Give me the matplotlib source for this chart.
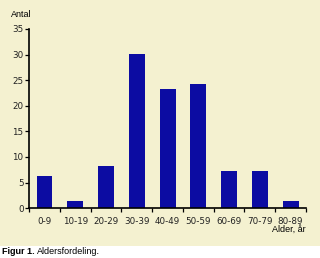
import matplotlib.pyplot as plt
import numpy as np

age_groups = ['0-9', '10-19', '20-29', '30-39', '40-49', '50-59', '60-69', '70-79', '80-89']
counts = [6.3, 1.4, 8.2, 30.1, 23.3, 24.3, 7.3, 7.3, 1.4]
y_ticks = [0, 5, 10, 15, 20, 25, 30, 35]

bg = '#f4f1d0'
bar_color = '#0c0ca2'

plt.rcParams['font.family'] = ['Liberation Sans', 'DejaVu Sans']

fig = plt.figure(figsize=(3.2, 2.58), dpi=100)
fig.patch.set_facecolor('white')

# beige panel behind the chart, caption strip below it stays white
back = fig.add_axes([0, 0.047, 1, 0.953], zorder=-1)
back.set_axis_off()
back.add_patch(plt.Rectangle((0, 0), 1, 1, transform=back.transAxes,
                             facecolor=bg, edgecolor='none'))

ax = fig.add_axes([0.091, 0.193, 0.865, 0.695])
ax.patch.set_alpha(0)
x = np.arange(len(age_groups))
ax.bar(x, counts, width=0.52, color=bar_color, edgecolor='none')

ax.set_xlim(-0.5, len(age_groups) - 0.5)
ax.set_ylim(0, 35)
ax.set_yticks(y_ticks)
ax.set_xticks(x)
ax.set_xticklabels(age_groups, family='DejaVu Sans')
ax.set_yticklabels([str(v) for v in y_ticks], family='DejaVu Sans')
ax.set_xticks(np.arange(len(age_groups) + 1) - 0.5, minor=True)
ax.tick_params(axis='x', which='major', length=0, pad=6, labelsize=6.3, labelcolor='#222222')
ax.tick_params(axis='x', which='minor', length=3, width=0.9, direction='out')
ax.tick_params(axis='y', length=3, width=0.9, pad=1, labelsize=6.3, labelcolor='#222222')

for side in ['top', 'right']:
    ax.spines[side].set_visible(False)
for side in ['left', 'bottom']:
    ax.spines[side].set_linewidth(1.2)

fig.text(0.035, 0.943, 'Antal', fontsize=6.5, va='center', ha='left')
fig.text(0.956, 0.112, 'Alder, år', fontsize=6.5, va='center', ha='right')

fig.text(0.005, 0.025, 'Figur 1.', fontsize=6.5, fontweight='bold', va='center', ha='left')
fig.text(0.115, 0.025, 'Aldersfordeling.', fontsize=6.5, va='center', ha='left')

fig.savefig('out.png', dpi=100, facecolor=fig.get_facecolor())
